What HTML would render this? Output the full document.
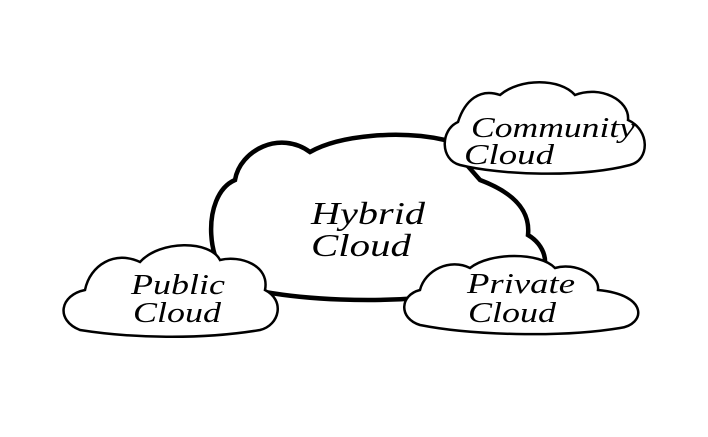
<!DOCTYPE html>
<html><head><style>
html,body{margin:0;padding:0;background:#fff;}
svg{display:block;}
text{font-family:"Liberation Serif",serif;font-style:italic;fill:#000;}
</style></head><body>
<svg width="708" height="437" viewBox="0 0 708 437">
<path d="M240,285 C205,275 200,195 235,180 C240,150 280,130 310,152 C340,135 400,130 445,140 L480,180 C520,195 530,215 528,235 C545,245 550,265 540,275 L420,298 C370,302 310,300 265,292 Z" fill="#fff" stroke="#000" stroke-width="4.5"/>
<path d="M80,330 C55,320 60,295 85,290 C90,265 115,250 140,262 C160,240 210,240 220,260 C240,255 270,265 265,290 C285,300 280,325 260,330 C200,340 130,338 80,330 Z" fill="#fff" stroke="#000" stroke-width="2.5"/>
<path d="M460,165 C440,160 440,130 458,122 C465,100 480,88 500,95 C520,78 560,78 575,95 C600,85 630,100 628,120 C650,130 650,160 630,165 C580,178 500,175 460,165 Z" fill="#fff" stroke="#000" stroke-width="2.5"/>
<path d="M420,325 C398,318 400,295 420,290 C425,270 450,258 470,268 C490,252 540,252 555,268 C575,262 600,275 598,290 C650,295 645,325 620,328 C560,338 470,335 420,325 Z" fill="#fff" stroke="#000" stroke-width="2.5"/>
<text x="311" y="224" font-size="32" textLength="114" lengthAdjust="spacingAndGlyphs">Hybrid</text>
<text x="311" y="256" font-size="32" textLength="100" lengthAdjust="spacingAndGlyphs">Cloud</text>
<text x="131" y="294" font-size="28" textLength="94" lengthAdjust="spacingAndGlyphs">Public</text>
<text x="133" y="322" font-size="28" textLength="88" lengthAdjust="spacingAndGlyphs">Cloud</text>
<text x="471" y="137" font-size="28" textLength="164" lengthAdjust="spacingAndGlyphs">Community</text>
<text x="464" y="164" font-size="28" textLength="90" lengthAdjust="spacingAndGlyphs">Cloud</text>
<text x="467" y="293" font-size="28" textLength="108" lengthAdjust="spacingAndGlyphs">Private</text>
<text x="468" y="322" font-size="28" textLength="88" lengthAdjust="spacingAndGlyphs">Cloud</text>
</svg>
</body></html>
